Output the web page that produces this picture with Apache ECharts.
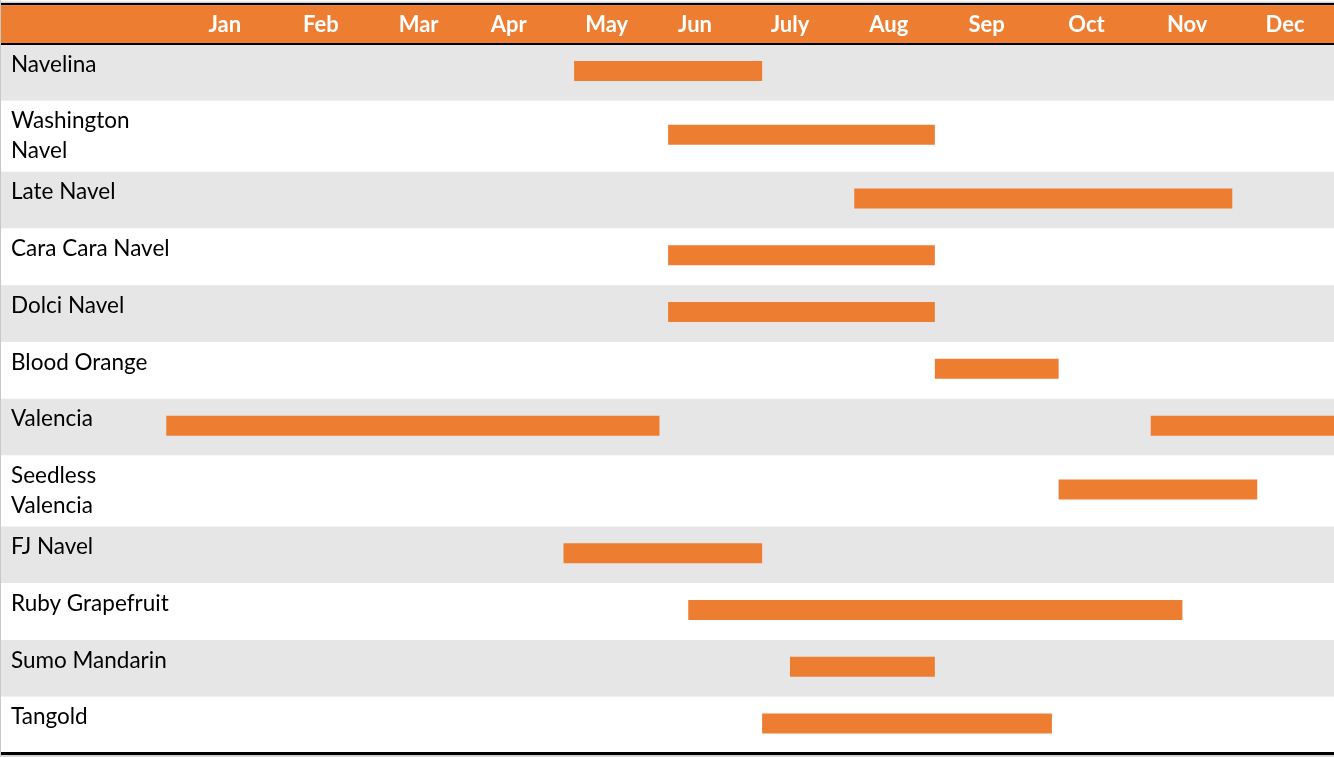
<!DOCTYPE html>
<html>
<head>
<meta charset="utf-8">
<script src="https://cdn.jsdelivr.net/npm/echarts@6/dist/echarts.min.js"></script>
<style>
html,body{margin:0;padding:0;background:#ffffff;}
#chart{width:1334px;height:757px;}
</style>
</head>
<body>
<div id="chart"></div>
<script>
// ---- data (x values in months: 0 = start of January, 12 = end of December) ----
const months = ['Jan','Feb','Mar','Apr','May','Jun','July','Aug','Sep','Oct','Nov','Dec'];
const monthLabelAt = [0.54, 1.54, 2.56, 3.50, 4.52, 5.44, 6.43, 7.46, 8.48, 9.52, 10.57, 11.59];
const varieties = ['Navelina','Washington\nNavel','Late Navel','Cara Cara Navel','Dolci Navel','Blood Orange','Valencia','Seedless\nValencia','FJ Navel','Ruby Grapefruit','Sumo Mandarin','Tangold'];
const seasonRow   = [0,    1,    2,    3,    4,    5,    6,     6,     7,    8,    9,    10,   11];
const seasonStart = [4.18, 5.16, 7.10, 5.16, 5.16, 7.94, -0.07, 10.19, 9.23, 4.07, 5.37, 6.43, 6.14];
const seasonEnd   = [6.14, 7.94, 11.04, 7.94, 7.94, 9.23, 5.07, 12.10, 11.30, 6.14, 10.52, 7.94, 9.16];

// ---- layout helpers ----
const ORANGE = '#ED7D31';
const GRAY = '#E7E6E6';
const rowSpan = varieties.map(v => v.indexOf('\n') >= 0 ? 1.25 : 1);
const rowTop = [];
let acc = 0;
rowSpan.forEach(s => { rowTop.push(acc); acc += s; });
const totalSpan = acc;
const X_MAX = 12.1;

const bandData = varieties.map((v, i) => [i, rowTop[i], rowTop[i] + rowSpan[i]]);
const barData = seasonRow.map((r, k) => [seasonStart[k], seasonEnd[k], rowTop[r] + rowSpan[r] / 2]);

const chart = echarts.init(document.getElementById('chart'), null, {renderer: 'canvas'});

const option = {
  backgroundColor: '#ffffff',
  animation: false,
  grid: {left: 173, right: 0, top: 44, bottom: 3.5, containLabel: false},
  xAxis: {
    type: 'value', position: 'top', min: 0, max: X_MAX, z: 10,
    axisLine: {show: false},
    axisTick: {show: false},
    splitLine: {show: false},
    axisLabel: {
      show: true,
      customValues: monthLabelAt,
      margin: 8,
      color: '#ffffff',
      fontFamily: 'Lato',
      fontWeight: 'bold',
      fontSize: 22,
      lineHeight: 22,
      formatter: function (val) {
        let best = 0, d = 1e9;
        monthLabelAt.forEach((m, i) => { if (Math.abs(m - val) < d) { d = Math.abs(m - val); best = i; } });
        return months[best];
      }
    }
  },
  yAxis: {
    type: 'value', inverse: true, min: 0, max: totalSpan, show: false
  },
  graphic: [
    {type: 'rect', z: 5, shape: {x: 0, y: 1.5, width: 1334, height: 1.5}, style: {fill: '#D4D4D4'}},
    {type: 'rect', z: 5, shape: {x: 0, y: 3, width: 1334, height: 2.3}, style: {fill: '#000000'}},
    {type: 'rect', z: 5, shape: {x: 0, y: 5.3, width: 1334, height: 37.7}, style: {fill: ORANGE}},
    {type: 'rect', z: 20, shape: {x: 0, y: 43, width: 1334, height: 2}, style: {fill: '#000000'}},
    {type: 'rect', z: 20, shape: {x: 0, y: 752, width: 1334, height: 3}, style: {fill: '#000000'}},
    {type: 'rect', z: 20, shape: {x: 0, y: 755, width: 1334, height: 2}, style: {fill: '#D4D4D4'}},
    {type: 'rect', z: 20, shape: {x: 0, y: 0, width: 1, height: 757}, style: {fill: '#C8C8C8'}}
  ],
  series: [
    {
      type: 'custom',
      name: 'rows',
      z: 1,
      silent: true,
      data: bandData,
      encode: {x: -1, y: [1, 2]},
      renderItem: function (params, api) {
        const i = api.value(0);
        const y0 = api.coord([0, api.value(1)])[1];
        const y1 = api.coord([0, api.value(2)])[1];
        const cs = params.coordSys;
        return {
          type: 'group',
          children: [
            {type: 'rect', shape: {x: 0, y: y0, width: cs.x + cs.width, height: y1 - y0},
             style: {fill: i % 2 === 0 ? GRAY : '#FFFFFF'}},
            {type: 'text', style: {text: varieties[i], x: 11, y: y0 + 5.6, fill: '#000000',
              font: '22.5px Lato', lineHeight: 29.5, verticalAlign: 'top', align: 'left'}}
          ]
        };
      }
    },
    {
      type: 'custom',
      name: 'season',
      z: 3,
      clip: false,
      data: barData,
      encode: {x: [0, 1], y: 2},
      renderItem: function (params, api) {
        const p0 = api.coord([api.value(0), api.value(2)]);
        const p1 = api.coord([api.value(1), api.value(2)]);
        const h = 20;
        return {
          type: 'rect',
          shape: {x: p0[0], y: p0[1] - h / 2 - 1.5, width: p1[0] - p0[0], height: h},
          style: {fill: ORANGE}
        };
      }
    }
  ]
};
chart.setOption(option);
</script>
</body>
</html>
